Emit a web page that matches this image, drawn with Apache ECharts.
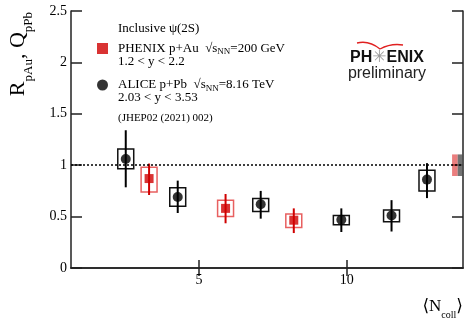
<!DOCTYPE html>
<html>
<head>
<meta charset="utf-8">
<script src="https://cdn.jsdelivr.net/npm/echarts@6/dist/echarts.min.js"></script>
<style>
  html, body { margin: 0; padding: 0; background: #fff; }
  #chart { width: 466px; height: 320px; }
</style>
</head>
<body>
<div id="chart"></div>
<script>
// psi(2S) R_pAu / Q_pPb vs <Ncoll>
const aliceNcoll = [2.52, 4.28, 7.09, 9.82, 11.52, 12.72];
const aliceVal = [1.06, 0.69, 0.62, 0.47, 0.51, 0.86];
const aliceStatLo = [0.785, 0.535, 0.48, 0.35, 0.355, 0.68];
const aliceStatHi = [1.34, 0.85, 0.75, 0.58, 0.66, 1.02];
const aliceSysLo = [0.965, 0.60, 0.55, 0.42, 0.45, 0.75];
const aliceSysHi = [1.157, 0.78, 0.676, 0.51, 0.565, 0.95];

const phenixNcoll = [3.31, 5.90, 8.21];
const phenixVal = [0.87, 0.58, 0.465];
const phenixStatLo = [0.71, 0.435, 0.34];
const phenixStatHi = [1.016, 0.72, 0.58];
const phenixSysLo = [0.74, 0.50, 0.394];
const phenixSysHi = [0.98, 0.66, 0.526];

// global normalisation uncertainty boxes at the right edge
const globalBoxX = [13.57, 13.76, 13.94];
const globalUnc = [0.105, 0.105];

const xTicks = [5, 10];
const boxHalfWidth = 0.27;

const serif = "'Liberation Serif', 'DejaVu Serif', serif";
const red = '#d00000';

const chart = echarts.init(document.getElementById('chart'));

const zip3 = (a, b, c) => a.map((v, i) => [v, b[i], c[i]]);

// systematic box
const sysBox = (color) => (params, api) => {
  const x = api.value(0);
  const p1 = api.coord([x - boxHalfWidth, api.value(2)]);
  const p2 = api.coord([x + boxHalfWidth, api.value(1)]);
  return {
    type: 'rect',
    shape: { x: p1[0], y: p1[1], width: p2[0] - p1[0], height: p2[1] - p1[1] },
    style: { fill: 'none', stroke: color, lineWidth: 1.5 },
  };
};

// stat error bar, no caps
const errBar = (color) => (params, api) => {
  const x = api.value(0);
  const p1 = api.coord([x, api.value(1)]);
  const p2 = api.coord([x, api.value(2)]);
  return {
    type: 'line',
    shape: { x1: p1[0], y1: p1[1], x2: p2[0], y2: p2[1] },
    style: { stroke: color, lineWidth: 2 },
  };
};

const globalBox = (params, api) => {
  const p1 = api.coord([api.value(0), 1 + api.value(2)]);
  const p2 = api.coord([api.value(1), 1 - api.value(2)]);
  return {
    type: 'rect',
    shape: { x: p1[0], y: p1[1], width: p2[0] - p1[0], height: p2[1] - p1[1] },
    style: { fill: params.dataIndex === 0 ? 'rgba(220,40,40,0.6)' : 'rgba(80,80,80,0.8)' },
  };
};

const subRich = {
  t: { fontFamily: serif, fontSize: 13, color: '#000', lineHeight: 16 },
  n: { fontFamily: serif, fontSize: 9, color: '#000', lineHeight: 10, verticalAlign: 'bottom' },
};

const option = {
  animation: false,
  grid: { left: 71, right: 2, top: 11, bottom: 49 },
  xAxis: [
    {
      type: 'value', min: 0.666, max: 13.94,
      axisLine: { lineStyle: { color: '#222', width: 1.5 } },
      axisTick: { inside: true, length: 8, customValues: xTicks, lineStyle: { color: '#222', width: 1.5 } },
      axisLabel: { customValues: xTicks, margin: 5, fontFamily: serif, fontSize: 14, color: '#000' },
      splitLine: { show: false },
      name: '{b|⟨N}{s|coll}{b|⟩}',
      nameLocation: 'end', nameGap: 0,
      nameTextStyle: {
        align: 'right', verticalAlign: 'top', padding: [29, 0, 0, 0],
        rich: {
          b: { fontFamily: serif, fontSize: 17, color: '#000', lineHeight: 20 },
          s: { fontFamily: serif, fontSize: 10, color: '#000', lineHeight: 11, verticalAlign: 'bottom', padding: [0, 0, -3, 0] },
        },
      },
    },
    {
      type: 'value', position: 'top', min: 0.666, max: 13.94,
      axisLine: { lineStyle: { color: '#222', width: 1.5 } },
      axisTick: { inside: true, length: 8, customValues: xTicks, lineStyle: { color: '#222', width: 1.5 } },
      axisLabel: { show: false },
      splitLine: { show: false },
    },
  ],
  yAxis: [
    {
      type: 'value', min: 0, max: 2.5, interval: 0.5,
      axisLine: { show: true, lineStyle: { color: '#222', width: 1.5 } },
      axisTick: { show: true, inside: true, length: 11, lineStyle: { color: '#222', width: 1.5 } },
      axisLabel: { margin: 4, fontFamily: serif, fontSize: 14, color: '#000' },
      splitLine: { show: false },
    },
    {
      type: 'value', position: 'right', min: 0, max: 2.5, interval: 0.5,
      axisLine: { show: true, lineStyle: { color: '#222', width: 1.5 } },
      axisTick: { show: true, inside: true, length: 11, lineStyle: { color: '#222', width: 1.5 } },
      axisLabel: { show: false },
      splitLine: { show: false },
    },
  ],
  legend: {
    orient: 'vertical', left: 92, top: 37,
    itemWidth: 11, itemHeight: 11, itemGap: 22,
    data: [
      { name: 'PHENIX', icon: 'rect', itemStyle: { color: red } },
      { name: 'ALICE', icon: 'circle', itemStyle: { color: '#000' } },
    ],
    formatter: (name) => name === 'PHENIX'
      ? '{t|PHENIX p+Au  √s}{n|NN}{t|=200 GeV}'
      : '{t|ALICE p+Pb  √s}{n|NN}{t|=8.16 TeV}',
    textStyle: { padding: [0, 0, 0, 5], rich: subRich },
  },
  graphic: [
    { type: 'text', x: 118, y: 29, style: { text: 'Inclusive ψ(2S)', font: "13px 'Liberation Serif'", fill: '#000', verticalAlign: 'middle' } },
    { type: 'text', x: 118, y: 62, style: { text: '1.2 < y < 2.2', font: "13px 'Liberation Serif'", fill: '#000', verticalAlign: 'middle' } },
    { type: 'text', x: 118, y: 98, style: { text: '2.03 < y < 3.53', font: "13px 'Liberation Serif'", fill: '#000', verticalAlign: 'middle' } },
    { type: 'text', x: 118, y: 118, style: { text: '(JHEP02 (2021) 002)', font: "11px 'Liberation Serif'", fill: '#000', verticalAlign: 'middle' } },
    // y axis title
    {
      type: 'text', x: 18, y: 12, rotation: Math.PI / 2,
      style: {
        text: '{b|R}{s|pAu}{b|, Q}{s|pPb}',
        align: 'right', verticalAlign: 'middle',
        rich: {
          b: { fontFamily: serif, fontSize: 22, fill: '#000', lineHeight: 26 },
          s: { fontFamily: serif, fontSize: 13, fill: '#000', lineHeight: 13, verticalAlign: 'bottom', padding: [0, 0, -4, 0] },
        },
      },
    },
    // PHENIX preliminary logo
    {
      type: 'bezierCurve',
      shape: { x1: 357, y1: 43, cpx1: 369, cpy1: 40, x2: 380, y2: 49 },
      style: { fill: 'none', stroke: '#e02020', lineWidth: 1.3 },
    },
    {
      type: 'bezierCurve',
      shape: { x1: 380, y1: 49, cpx1: 391, cpy1: 43, x2: 403, y2: 45 },
      style: { fill: 'none', stroke: '#e02020', lineWidth: 1.3 },
    },
    {
      type: 'text', x: 387, y: 58,
      style: {
        text: '{k|PH}{st|✳}{k|ENIX}', align: 'center', verticalAlign: 'middle',
        rich: {
          k: { fontFamily: "'Liberation Sans', Arial, sans-serif", fontSize: 16, fontWeight: 'bold', fill: '#111' },
          st: { fontFamily: "'DejaVu Sans', sans-serif", fontSize: 17, fill: '#999' },
        },
      },
    },
    { type: 'text', x: 387, y: 74, style: { text: 'preliminary', font: "16px 'Liberation Sans'", fill: '#222', align: 'center', verticalAlign: 'middle' } },
  ],
  series: [
    {
      type: 'custom', renderItem: globalBox, z: 1, silent: true,
      data: [[globalBoxX[0], globalBoxX[1], globalUnc[0]], [globalBoxX[1], globalBoxX[2], globalUnc[1]]],
    },
    { type: 'custom', renderItem: sysBox('#111'), z: 2, silent: true, data: zip3(aliceNcoll, aliceSysLo, aliceSysHi) },
    { type: 'custom', renderItem: sysBox('#e86060'), z: 2, silent: true, data: zip3(phenixNcoll, phenixSysLo, phenixSysHi) },
    { type: 'custom', renderItem: errBar('#000'), z: 3, silent: true, data: zip3(aliceNcoll, aliceStatLo, aliceStatHi) },
    { type: 'custom', renderItem: errBar(red), z: 3, silent: true, data: zip3(phenixNcoll, phenixStatLo, phenixStatHi) },
    {
      name: 'ALICE', type: 'scatter', symbol: 'circle', symbolSize: 10, z: 4,
      itemStyle: { color: '#000' },
      data: aliceNcoll.map((x, i) => [x, aliceVal[i]]),
      markLine: {
        silent: true, symbol: 'none', label: { show: false },
        lineStyle: { type: [2, 2], color: '#000', width: 1.5 },
        data: [{ yAxis: 1 }],
      },
    },
    {
      name: 'PHENIX', type: 'scatter', symbol: 'rect', symbolSize: 9, z: 4,
      itemStyle: { color: red },
      data: phenixNcoll.map((x, i) => [x, phenixVal[i]]),
    },
  ],
};

chart.setOption(option);
</script>
</body>
</html>
